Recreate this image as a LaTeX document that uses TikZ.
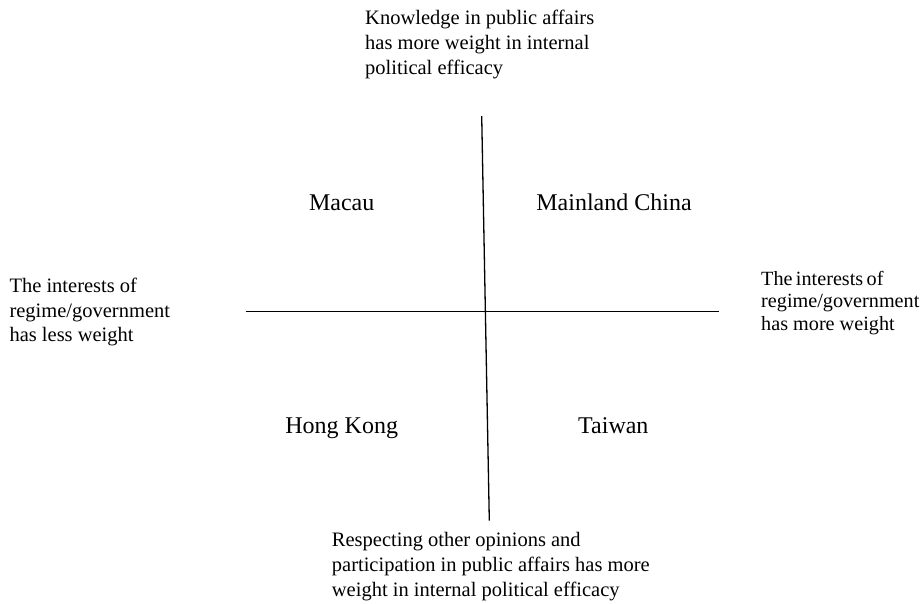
\documentclass[tikz,border=0pt]{standalone}
\usepackage{fontspec}
\setmainfont{Liberation Serif}
\newlength\rgw
\begin{document}
\begin{tikzpicture}[x=1pt,y=-1pt,
  lbl/.style={font=\fontsize{20.5}{24.6}\selectfont, align=left, inner sep=0pt, anchor=base west},
  quad/.style={font=\fontsize{24}{28}\selectfont, inner sep=0pt, anchor=base},
  axis/.style={line width=1.3pt, black}]
\useasboundingbox (0,0) rectangle (923,603);
% axes
\coordinate (vt) at (481.7,116);
\coordinate (vb) at (489.3,520.7);
\coordinate (hl) at (245.7,311.3);
\coordinate (hr) at (719.3,311.3);
\draw[axis] (vt) -- (vb);
\draw[axis] (hl) -- (hr);
% quadrant labels
\node[quad] (macau) at (341.7,210) {Macau};
\node[quad] (mainland) at (614,210) {Mainland China};
\node[quad] (hk) at (341.7,433) {Hong Kong};
\node[quad] (taiwan) at (613.3,433) {Taiwan};
% axis end labels (anchor = baseline of last line)
\node[lbl] (top) at (365,74) {Knowledge in public affairs\\has more weight in internal\\political efficacy};
\node[lbl] (bottom) at (331.7,596) {Respecting other opinions and\\participation in public affairs has more\\weight in internal political efficacy};
\node[lbl] (left) at (9.3,341.7) {The interests of\\regime/government\\has less weight};
\settowidth{\rgw}{\fontsize{20.2}{22.5}\selectfont regime/government}
\node[lbl, font=\fontsize{20.2}{22.5}\selectfont] (right) at (761,330) {\makebox[\rgw][s]{The interests of}\\regime/government\\has more weight};
\end{tikzpicture}
\end{document}
